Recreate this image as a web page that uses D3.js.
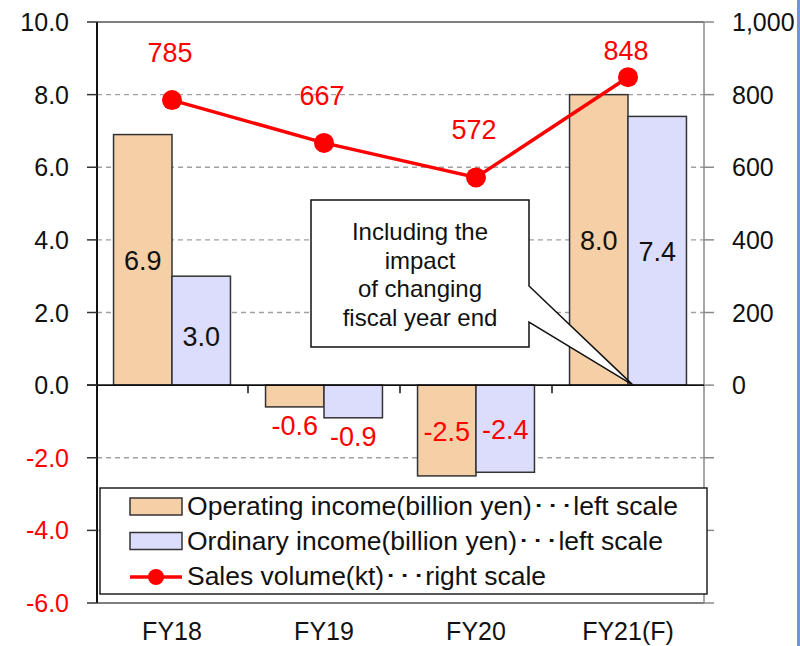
<!DOCTYPE html>
<html>
<head>
<meta charset="utf-8">
<script src="https://cdn.jsdelivr.net/npm/d3@7"></script>
<style>
  body { margin: 0; background: #fff; }
  svg { display: block; font-family: "Liberation Sans", Arial, sans-serif; }
</style>
</head>
<body>
<div id="chart"></div>
<script>
// chart data
var categories = ["FY18", "FY19", "FY20", "FY21(F)"];
var operatingIncome = [6.9, -0.6, -2.5, 8.0];
var ordinaryIncome = [3.0, -0.9, -2.4, 7.4];
var salesVolume = [785, 667, 572, 848];
var leftTicks = [-6, -4, -2, 0, 2, 4, 6, 8, 10];
var rightTicks = [0, 200, 400, 600, 800, 1000];
var legendLabels = [
  "Operating income(billion yen)\uFF65\uFF65\uFF65left scale",
  "Ordinary income(billion yen)\uFF65\uFF65\uFF65left scale",
  "Sales volume(kt)\uFF65\uFF65\uFF65right scale"
];
var calloutLines = ["Including the", "impact", "of changing", "fiscal year end"];

var svgWidth = 800;
var svgHeight = 646;

// one decimal with a plain hyphen for negatives
var fmt1 = d => d3.format(".1f")(d).replace("\u2212", "-");

var svg = d3.select("#chart")
  .append("svg")
  .attr("width", svgWidth)
  .attr("height", svgHeight);

// scales
var xScale = d3.scaleBand()
  .domain(categories)
  .range([96, 704]);

var xSub = d3.scaleBand()
  .domain(["op", "ord"])
  .range([0, xScale.bandwidth()])
  .paddingOuter(0.3);

var yLeft = d3.scaleLinear()
  .domain([-6, 10])
  .range([603, 22]);

var yRight = d3.scaleLinear()
  .domain([0, 1000])
  .range([yLeft(0), yLeft(10)]);

var axisX = 97;
var rightX = 704;

// dashed gridlines
svg.append("g")
  .selectAll("line")
  .data(leftTicks.filter(d => d !== 0 && d !== 10 && d !== -6))
  .enter()
  .append("line")
  .attr("x1", axisX)
  .attr("x2", rightX)
  .attr("y1", d => yLeft(d))
  .attr("y2", d => yLeft(d))
  .attr("stroke", "#a0a0a0")
  .attr("stroke-width", 1.3)
  .attr("stroke-dasharray", "5,4");

// top and bottom frame lines
svg.append("g")
  .selectAll("line")
  .data([10, -6])
  .enter()
  .append("line")
  .attr("x1", axisX)
  .attr("x2", rightX)
  .attr("y1", d => yLeft(d))
  .attr("y2", d => yLeft(d))
  .attr("stroke", "#555")
  .attr("stroke-width", 1.5);

// right axis (gray)
svg.append("line")
  .attr("x1", rightX).attr("x2", rightX)
  .attr("y1", yLeft(10)).attr("y2", yLeft(-6))
  .attr("stroke", "#8a8a8a")
  .attr("stroke-width", 1.5);

svg.append("g")
  .selectAll("line")
  .data(leftTicks)
  .enter()
  .append("line")
  .attr("x1", rightX)
  .attr("x2", rightX + 10)
  .attr("y1", d => yLeft(d))
  .attr("y2", d => yLeft(d))
  .attr("stroke", "#8a8a8a")
  .attr("stroke-width", 1.5);

svg.append("g")
  .selectAll("text")
  .data(rightTicks)
  .enter()
  .append("text")
  .attr("x", 732)
  .attr("y", d => yRight(d))
  .attr("dy", "0.36em")
  .style("font-size", "25px")
  .style("fill", "#111")
  .text(d => d3.format(",")(d));

// bars
var groups = svg.append("g")
  .selectAll("g")
  .data(categories)
  .enter()
  .append("g")
  .attr("transform", d => `translate(${xScale(d)},0)`);

groups.append("rect")
  .attr("x", xSub("op"))
  .attr("width", xSub.bandwidth())
  .attr("y", (d, i) => yLeft(Math.max(0, operatingIncome[i])))
  .attr("height", (d, i) => Math.abs(yLeft(operatingIncome[i]) - yLeft(0)))
  .attr("fill", "#F5CFA6")
  .attr("stroke", "#333")
  .attr("stroke-width", 1.5);

groups.append("rect")
  .attr("x", xSub("ord"))
  .attr("width", xSub.bandwidth())
  .attr("y", (d, i) => yLeft(Math.max(0, ordinaryIncome[i])))
  .attr("height", (d, i) => Math.abs(yLeft(ordinaryIncome[i]) - yLeft(0)))
  .attr("fill", "#DCDCFC")
  .attr("stroke", "#333")
  .attr("stroke-width", 1.5);

// zero line and x ticks
svg.append("line")
  .attr("x1", axisX - 10).attr("x2", rightX)
  .attr("y1", yLeft(0)).attr("y2", yLeft(0))
  .attr("stroke", "#111")
  .attr("stroke-width", 1.8);

svg.append("g")
  .selectAll("line")
  .data(categories.slice(1))
  .enter()
  .append("line")
  .attr("x1", d => xScale(d))
  .attr("x2", d => xScale(d))
  .attr("y1", yLeft(0))
  .attr("y2", yLeft(0) + 8)
  .attr("stroke", "#111")
  .attr("stroke-width", 1.5);

// left axis
svg.append("line")
  .attr("x1", axisX).attr("x2", axisX)
  .attr("y1", yLeft(10)).attr("y2", yLeft(-6))
  .attr("stroke", "#111")
  .attr("stroke-width", 2);

svg.append("g")
  .selectAll("line")
  .data(leftTicks)
  .enter()
  .append("line")
  .attr("x1", axisX - 10)
  .attr("x2", axisX)
  .attr("y1", d => yLeft(d))
  .attr("y2", d => yLeft(d))
  .attr("stroke", "#333")
  .attr("stroke-width", 1.5);

svg.append("g")
  .selectAll("text")
  .data(leftTicks)
  .enter()
  .append("text")
  .attr("x", 69)
  .attr("y", d => yLeft(d))
  .attr("dy", "0.36em")
  .style("font-size", "25px")
  .style("text-anchor", "end")
  .style("fill", d => d < 0 ? "#ff0000" : "#111")
  .text(d => fmt1(d));

// category labels
svg.append("g")
  .selectAll("text")
  .data(categories)
  .enter()
  .append("text")
  .attr("x", d => xScale(d) + xScale.bandwidth() / 2)
  .attr("y", 640)
  .style("font-size", "25px")
  .style("text-anchor", "middle")
  .style("fill", "#111")
  .text(d => d);

// bar value labels
var barLabels = svg.append("g").style("font-size", "27px").style("text-anchor", "middle");

barLabels.selectAll(".op")
  .data(categories)
  .enter()
  .append("text")
  .attr("x", d => xScale(d) + xSub("op") + xSub.bandwidth() / 2)
  .attr("y", (d, i) => operatingIncome[i] > 0
    ? yLeft(operatingIncome[i] / 2) + 10
    : (i === 1 ? yLeft(operatingIncome[i]) + 28 : yLeft(operatingIncome[i] / 2) + 10))
  .style("fill", (d, i) => operatingIncome[i] < 0 ? "#ff0000" : "#111")
  .text((d, i) => fmt1(operatingIncome[i]));

barLabels.selectAll(".ord")
  .data(categories)
  .enter()
  .append("text")
  .attr("x", d => xScale(d) + xSub("ord") + xSub.bandwidth() / 2)
  .attr("y", (d, i) => ordinaryIncome[i] > 0
    ? yLeft(ordinaryIncome[i] / 2) + 10 + (i === 0 ? 5 : 0)
    : (i === 1 ? yLeft(ordinaryIncome[i]) + 28 : yLeft(ordinaryIncome[i] / 2) + 10))
  .style("fill", (d, i) => ordinaryIncome[i] < 0 ? "#ff0000" : "#111")
  .text((d, i) => fmt1(ordinaryIncome[i]));

// callout
var tipX = xScale(categories[3]) + xSub("op") + xSub.bandwidth() + 5;
var tipY = yLeft(0);
var bx0 = 311, bx1 = 529, by0 = 200, by1 = 347;
svg.append("path")
  .attr("d", `M${bx0},${by0} L${bx1},${by0} L${bx1},286 L${tipX},${tipY} L${bx1},322 L${bx1},${by1} L${bx0},${by1} Z`)
  .attr("fill", "#fff")
  .attr("stroke", "#111")
  .attr("stroke-width", 1.5);

svg.append("g")
  .selectAll("text")
  .data(calloutLines)
  .enter()
  .append("text")
  .attr("x", (bx0 + bx1) / 2)
  .attr("y", (d, i) => 240 + i * 28.5)
  .style("font-size", "24px")
  .style("text-anchor", "middle")
  .style("fill", "#111")
  .text(d => d);

// sales volume line
var line = d3.line()
  .x((d, i) => xScale(categories[i]) + xScale.bandwidth() / 2)
  .y(d => yRight(d));

svg.append("path")
  .datum(salesVolume)
  .attr("d", line)
  .attr("fill", "none")
  .attr("stroke", "#ff0000")
  .attr("stroke-width", 3.5);

svg.append("g")
  .selectAll("circle")
  .data(salesVolume)
  .enter()
  .append("circle")
  .attr("cx", (d, i) => xScale(categories[i]) + xScale.bandwidth() / 2)
  .attr("cy", d => yRight(d))
  .attr("r", 10)
  .attr("fill", "#ff0000");

svg.append("g")
  .selectAll("text")
  .data(salesVolume)
  .enter()
  .append("text")
  .attr("x", (d, i) => xScale(categories[i]) + xScale.bandwidth() / 2 - 2)
  .attr("y", (d, i) => yRight(d) - (i === 3 ? 17 : 38))
  .style("font-size", "27px")
  .style("text-anchor", "middle")
  .style("fill", "#ff0000")
  .text(d => d);

// legend
var legend = svg.append("g");
legend.append("rect")
  .attr("x", 100)
  .attr("y", 488)
  .attr("width", 607)
  .attr("height", 106)
  .attr("fill", "#fff")
  .attr("stroke", "#222")
  .attr("stroke-width", 1.5);

var swatchFills = ["#F5CFA6", "#DCDCFC"];
legend.selectAll(".sw")
  .data(swatchFills)
  .enter()
  .append("rect")
  .attr("x", 130)
  .attr("y", (d, i) => 498 + i * 34.5)
  .attr("width", 52)
  .attr("height", 17)
  .attr("fill", d => d)
  .attr("stroke", "#333")
  .attr("stroke-width", 1.5);

legend.append("line")
  .attr("x1", 130).attr("x2", 182)
  .attr("y1", 577).attr("y2", 577)
  .attr("stroke", "#ff0000")
  .attr("stroke-width", 3.5);
legend.append("circle")
  .attr("cx", 156).attr("cy", 577).attr("r", 8)
  .attr("fill", "#ff0000");

var legendWidths = [491, 476, 359];
legend.selectAll("text")
  .data(legendLabels)
  .enter()
  .append("text")
  .attr("x", 187)
  .attr("y", (d, i) => 515 + i * 35)
  .attr("textLength", (d, i) => legendWidths[i])
  .attr("lengthAdjust", "spacingAndGlyphs")
  .style("font-size", "25px")
  .style("fill", "#111")
  .text(d => d);

// slide border on the right
svg.append("rect")
  .attr("x", 797)
  .attr("y", 0)
  .attr("width", 3)
  .attr("height", svgHeight)
  .attr("fill", "#7096d8");
</script>
</body>
</html>
